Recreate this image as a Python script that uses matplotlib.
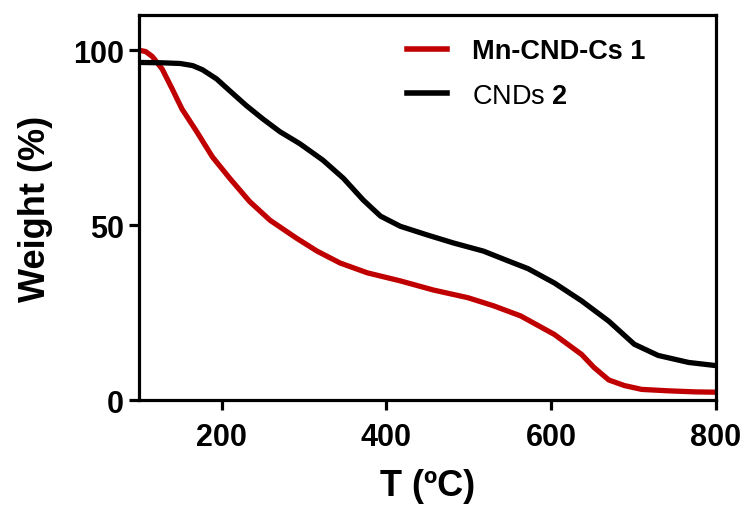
"""
TGA curves: Mn-CND-Cs 1 vs CNDs 2, weight loss against temperature.
"""
import matplotlib
matplotlib.use("Agg")
import matplotlib.pyplot as plt

plt.rcParams["font.family"] = ["Liberation Sans", "DejaVu Sans"]
plt.rcParams["mathtext.fontset"] = "custom"
plt.rcParams["mathtext.rm"] = "Liberation Sans"
plt.rcParams["mathtext.bf"] = "Liberation Sans:bold"

# Mn-CND-Cs 1 (red)
t_mn = [100, 108, 116, 128, 140, 152, 170, 189, 210, 234, 259, 291, 316,
        344, 377, 417, 457, 499, 530, 563, 604, 637, 652, 670, 689, 710,
        742, 774, 800]
w_mn = [100, 99.6, 98.2, 94.6, 89, 83.2, 76.7, 69.5, 63.4, 56.8, 51.4,
        46.3, 42.6, 39.2, 36.4, 34.1, 31.5, 29.3, 27, 24.1, 18.8, 13.1,
        9.4, 5.8, 4.2, 3.1, 2.7, 2.4, 2.3]

# CNDs 2 (black)
t_cnd = [100, 128, 150, 165, 177, 194, 210, 230, 250, 271, 295, 323, 348,
         372, 393, 417, 450, 482, 518, 548, 572, 604, 637, 670, 701, 730,
         767, 800]
w_cnd = [96.5, 96.4, 96.2, 95.6, 94.4, 91.8, 88.4, 84.2, 80.4, 76.7, 73.3,
         68.6, 63.4, 57.2, 52.6, 49.7, 47.2, 44.9, 42.6, 39.8, 37.6, 33.5,
         28.4, 22.6, 16, 12.8, 10.8, 9.9]

labels = ["Mn-CND-Cs 1", r"CNDs $\mathbf{2}$"]

fig = plt.figure(figsize=(7.48, 5.06), dpi=100)
ax = fig.add_axes([0.186, 0.207, 0.771, 0.761])

ax.plot(t_mn, w_mn, color="#c00000", lw=3.8, solid_joinstyle="round",
        label=labels[0])
ax.plot(t_cnd, w_cnd, color="black", lw=3.8, solid_joinstyle="round",
        label=labels[1])

ax.set_xlim(100, 800)
ax.set_ylim(0, 110)
ax.set_xticks([200, 400, 600, 800])
ax.set_yticks([0, 50, 100])

for sp in ax.spines.values():
    sp.set_linewidth(2.3)
ax.tick_params(direction="out", length=7, width=2.3, labelsize=22, pad=4)
ax.tick_params(axis="x", pad=9)
for lab in ax.get_xticklabels() + ax.get_yticklabels():
    lab.set_fontweight("bold")

ax.set_xlabel("T (ºC)", fontsize=26, fontweight="bold", labelpad=11)
ax.set_ylabel("Weight (%)", fontsize=26, fontweight="bold", labelpad=14)

leg = ax.legend(loc="upper left", frameon=False, fontsize=19.5,
                handlelength=1.5, handletextpad=0.9, labelspacing=0.68,
                borderpad=0, borderaxespad=0,
                bbox_to_anchor=(0.464, 0.94))
for line in leg.get_lines():
    line.set_linewidth(4.0)
leg.get_texts()[0].set_fontweight("bold")

fig.savefig("out.png", dpi=100)
